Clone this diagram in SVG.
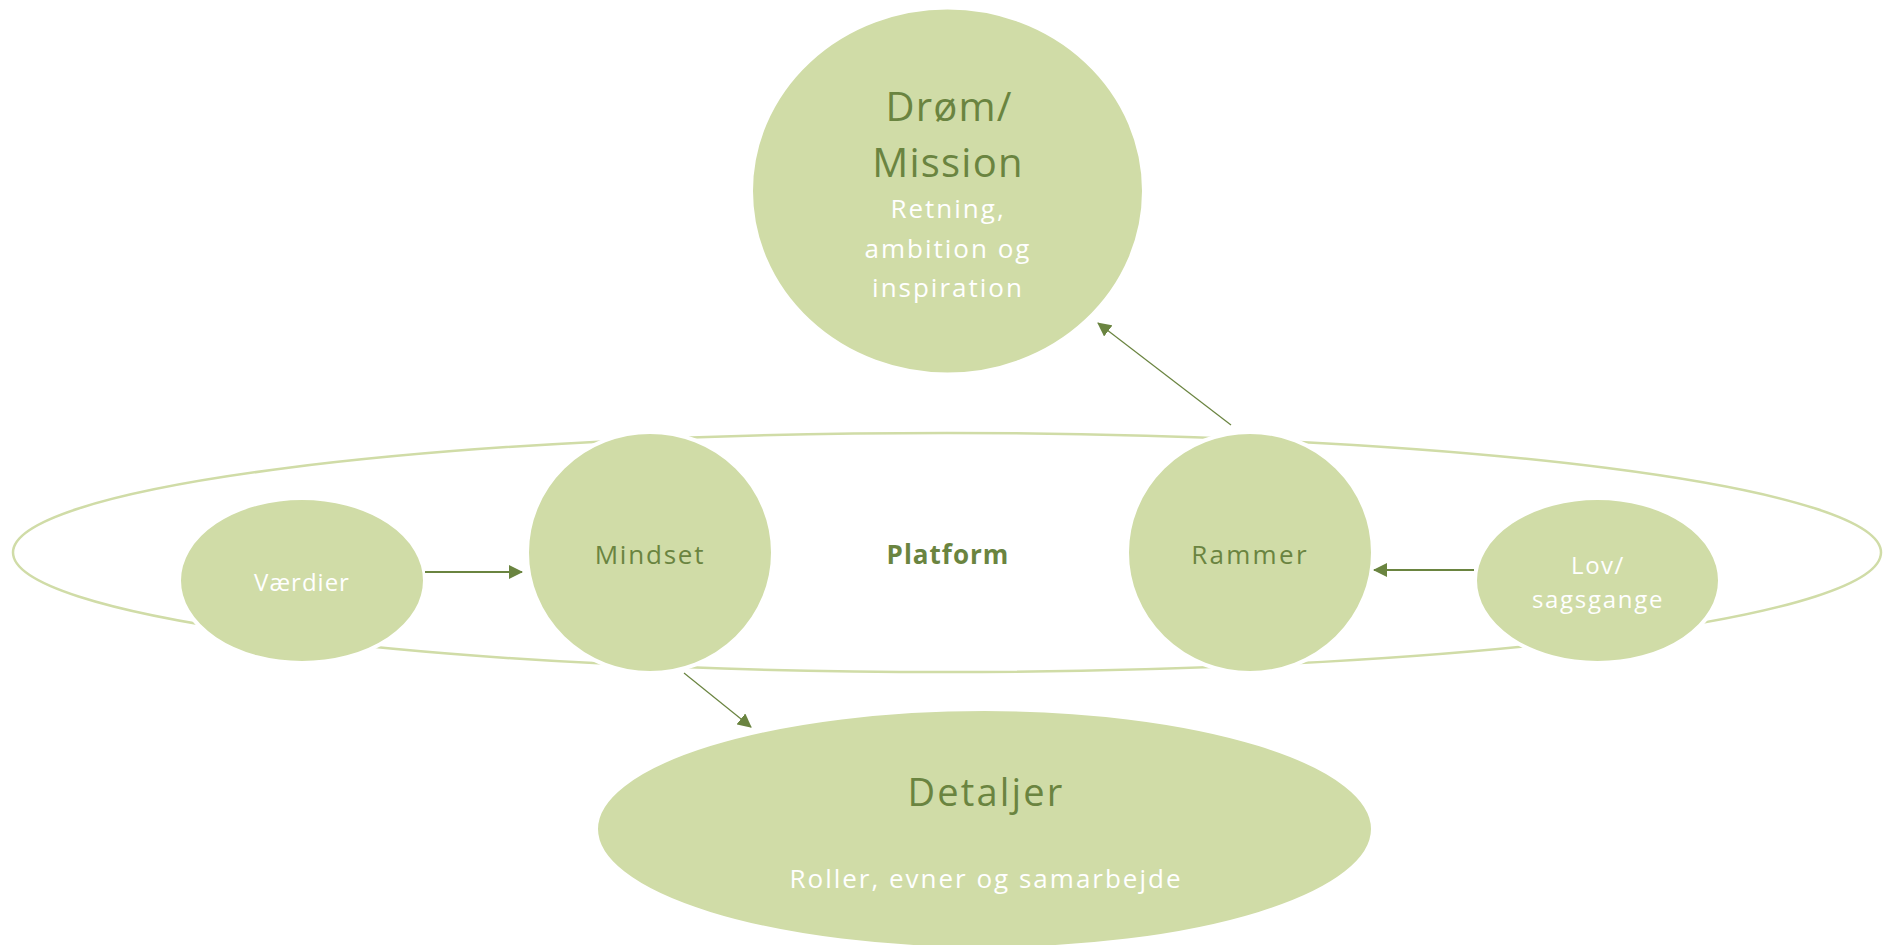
<svg xmlns="http://www.w3.org/2000/svg" width="1892" height="945" viewBox="0 0 1892 945">
<style>
.node{fill:#D0DCA7;stroke:#ffffff;stroke-width:4}
.ring{fill:none;stroke:#D0DCA7;stroke-width:2.5}
.dk{fill:#6A8440;font-family:"Open Sans","Lato",sans-serif;text-anchor:middle}
.wt{fill:#ffffff;font-family:"Open Sans","Lato",sans-serif;text-anchor:middle}
.con{stroke:#6A8440;fill:none}
</style>
<defs>
<marker id="ah" markerWidth="14" markerHeight="14" refX="13" refY="7" orient="auto" markerUnits="userSpaceOnUse" viewBox="0 0 14 14">
<path d="M0,0 L14,7 L0,14 Z" fill="#6A8440"/>
</marker>
</defs>
<rect width="1892" height="945" fill="#ffffff"/>
<g id="platform">
<ellipse class="ring" cx="947" cy="552.5" rx="934" ry="119.5"/>
<text class="dk" x="948" y="564" font-size="26" font-weight="bold" letter-spacing="1">Platform</text>
</g>
<g id="drom">
<ellipse class="node" cx="947.5" cy="191" rx="196.5" ry="183.5"/>
<text class="dk" x="949" y="121" font-size="40" letter-spacing="1.2">Drøm/</text>
<text class="dk" x="948" y="177" font-size="40" letter-spacing="1.2">Mission</text>
<text class="wt" x="948" y="218" font-size="26" letter-spacing="2">Retning,</text>
<text class="wt" x="948" y="258" font-size="26" letter-spacing="2">ambition og</text>
<text class="wt" x="948" y="297" font-size="26" letter-spacing="2">inspiration</text>
</g>
<g id="vaerdier">
<ellipse class="node" cx="302" cy="580.5" rx="123" ry="82.5"/>
<text class="wt" x="302" y="591" font-size="24" letter-spacing="1">Værdier</text>
</g>
<g id="mindset">
<ellipse class="node" cx="650" cy="552.5" rx="123" ry="120.5"/>
<text class="dk" x="650" y="564" font-size="26" letter-spacing="1.8">Mindset</text>
</g>
<g id="rammer">
<ellipse class="node" cx="1250" cy="552.5" rx="123" ry="120.5"/>
<text class="dk" x="1250" y="564" font-size="26" letter-spacing="2.3">Rammer</text>
</g>
<g id="lov">
<ellipse class="node" cx="1597.5" cy="580.5" rx="122.5" ry="82.5"/>
<text class="wt" x="1598" y="574" font-size="24" letter-spacing="1.5">Lov/</text>
<text class="wt" x="1598" y="608" font-size="24" letter-spacing="1.7">sagsgange</text>
</g>
<g id="detaljer">
<ellipse class="node" cx="984.5" cy="829" rx="388.5" ry="120"/>
<text class="dk" x="986" y="806" font-size="38" letter-spacing="2.2">Detaljer</text>
<text class="wt" x="986" y="888" font-size="26" letter-spacing="2">Roller, evner og samarbejde</text>
</g>
<g id="connectors">
<line class="con" x1="425" y1="572" x2="522" y2="572" stroke-width="2" marker-end="url(#ah)"/>
<line class="con" x1="1474" y1="570" x2="1374" y2="570" stroke-width="2" marker-end="url(#ah)"/>
<line class="con" x1="1231" y1="425" x2="1098" y2="323" stroke-width="1.2" marker-end="url(#ah)"/>
<line class="con" x1="684" y1="673" x2="751" y2="727" stroke-width="1.2" marker-end="url(#ah)"/>
</g>
</svg>
